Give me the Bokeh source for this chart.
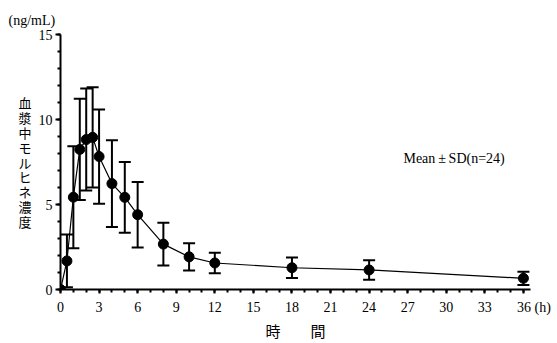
from bokeh.plotting import figure
from bokeh.models import Range1d, FixedTicker, Label, Whisker, ColumnDataSource, TeeHead
from bokeh.embed import file_html
from bokeh.resources import INLINE

# Data
time_h = [0, 0.5, 1, 1.5, 2, 2.5, 3, 4, 5, 6, 8, 10, 12, 18, 24, 36]
mean_conc = [0.0, 1.68, 5.43, 8.24, 8.82, 8.95, 7.82, 6.23, 5.42, 4.40, 2.67, 1.92, 1.56, 1.28, 1.15, 0.66]
sd_conc = [0.0, 1.55, 3.0, 2.98, 3.0, 2.95, 2.77, 2.55, 2.08, 1.93, 1.26, 0.80, 0.60, 0.60, 0.57, 0.39]
x_ticks = [0, 3, 6, 9, 12, 15, 18, 21, 24, 27, 30, 33, 36]
x_minor = list(range(0, 37))
y_ticks = [0, 5, 10, 15]
y_minor = list(range(0, 16))
x_unit_label = "(h)"
y_unit_label = "(ng/mL)"
x_title = "時\u3000\u3000間"
y_title = "血漿中モルヒネ濃度"
note = "Mean\u2009±\u2009SD(n=24)"

SERIF = "Liberation Serif"
CJK = "Noto Sans CJK JP"

lower = [m - s for m, s in zip(mean_conc, sd_conc)]
upper = [m + s for m, s in zip(mean_conc, sd_conc)]
src = ColumnDataSource(dict(t=time_h, m=mean_conc))
err_src = ColumnDataSource(dict(t=time_h[1:], lo=lower[1:], hi=upper[1:]))

p = figure(width=557, height=343, output_backend="svg", toolbar_location=None,
           x_range=Range1d(0, 36.55), y_range=Range1d(0, 15))
p.min_border_left = 60
p.min_border_right = 27
p.min_border_top = 34
p.min_border_bottom = 53
p.outline_line_color = None
p.grid.visible = False
p.background_fill_color = "white"
p.border_fill_color = "white"

# unit label of the y axis as a left-aligned title
p.title.text = y_unit_label
p.title.align = "left"
p.title.offset = -52
p.title.text_font = SERIF
p.title.text_font_size = "14px"
p.title.text_font_style = "normal"
p.title.text_color = "black"
p.title.standoff = 13

for ax in (p.xaxis[0], p.yaxis[0]):
    ax.axis_line_width = 2
    ax.axis_line_color = "black"
    ax.major_tick_line_width = 2
    ax.minor_tick_line_width = 2
    ax.major_tick_line_color = "black"
    ax.minor_tick_line_color = "black"
    ax.major_tick_in = 0
    ax.minor_tick_in = 0
    ax.major_label_text_font = SERIF
    ax.major_label_text_font_size = "14px"
    ax.major_label_text_color = "black"
    ax.axis_label_text_font = CJK
    ax.axis_label_text_font_style = "normal"
    ax.axis_label_text_color = "black"

p.xaxis.ticker = FixedTicker(ticks=x_ticks, minor_ticks=x_minor)
p.xaxis.major_tick_out = 4
p.xaxis.minor_tick_out = 3
p.xaxis.major_label_standoff = 6
# the last tick carries the unit; figure spaces keep "36" centred on its tick
p.xaxis.major_label_overrides = {36: "\u2007\u2007\u200736 " + x_unit_label}
p.xaxis.axis_label = x_title
p.xaxis.axis_label_text_font_size = "15px"
p.xaxis.axis_label_standoff = 2

p.yaxis.ticker = FixedTicker(ticks=y_ticks, minor_ticks=y_minor)
p.yaxis.major_tick_out = 5
p.yaxis.minor_tick_out = 3
p.yaxis.major_label_standoff = 3
p.yaxis.axis_label = "\n".join(y_title)
p.yaxis.axis_label_orientation = "horizontal"
p.yaxis.axis_label_text_font_size = "13px"
p.yaxis.axis_label_text_line_height = 0.78
p.yaxis.axis_label_standoff = 4

# error bars
whisk = Whisker(source=err_src, base="t", lower="lo", upper="hi",
                line_color="black", line_width=2,
                upper_head=TeeHead(size=12, line_width=2, line_color="black"),
                lower_head=TeeHead(size=12, line_width=2, line_color="black"))
p.add_layout(whisk)

p.line("t", "m", source=src, line_color="black", line_width=1.2)
p.scatter("t", "m", source=src, size=10, fill_color="black", line_color="black")

p.add_layout(Label(x=26.67, y=7.7, text=note, text_font=SERIF, text_font_size="14px",
                   text_align="left", text_baseline="middle", text_color="black"))

open("out.html", "w").write(file_html(p, INLINE))
